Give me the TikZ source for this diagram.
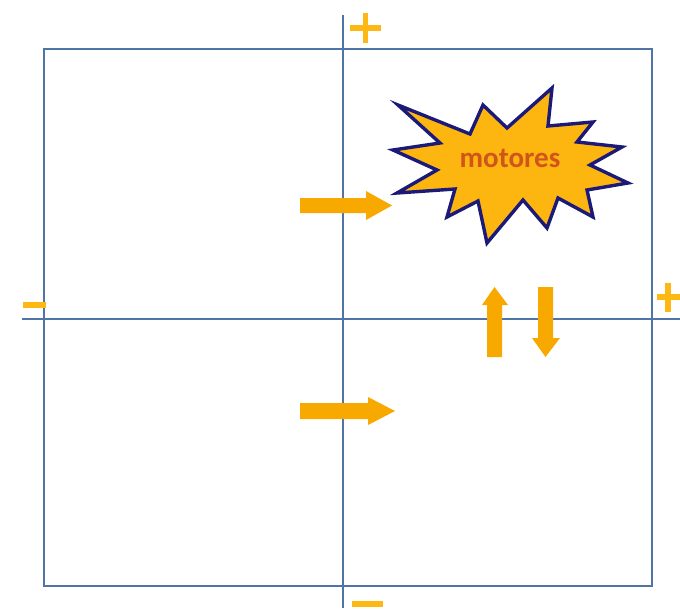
\documentclass[tikz,border=0pt]{standalone}
\usepackage{fontspec}
\setmainfont{Carlito}
\definecolor{axisblue}{HTML}{4F74A8}
\definecolor{arrorange}{HTML}{F8A900}
\definecolor{signgold}{HTML}{FDB813}
\definecolor{starfill}{HTML}{FDB60F}
\definecolor{starline}{HTML}{1C1A78}
\definecolor{txtred}{HTML}{D2541A}
\begin{document}
\begin{tikzpicture}[x=1pt,y=-1pt,
  axisline/.style={draw=axisblue,line width=1.3pt},
  fatarrow/.style={fill=arrorange,draw=none},
  sign/.style={draw=signgold,line width=5.5pt}]
\useasboundingbox (0,0) rectangle (680,608);
% frame and axes
\draw[axisline] (44,49) rectangle (652,586);
\draw[axisline] (343,15) -- (343,608);
\draw[axisline] (22,319) -- (680,319);
% signs
\draw[sign] (350,28) -- (381,28) (365.5,13) -- (365.5,43);
\draw[sign] (657,297) -- (682,297) (668,283) -- (668,312);
\draw[sign] (23,305) -- (46,305);
\draw[sign] (352,604) -- (383,604);
% star
\draw[fill=starfill,draw=starline,line width=3.4pt,line join=miter]
  (398,105) -- (470,134) -- (483,105) -- (507,128) -- (552,88) -- (548,126)
  -- (593,122) -- (577,142) -- (622,147) -- (590,165) -- (628,183) -- (587,190)
  -- (593,217) -- (558,198) -- (547,228) -- (523,200) -- (487,243) -- (478,201)
  -- (447,217) -- (455,189) -- (397,193) -- (437,170) -- (393,150) -- (440,143) -- cycle;
\node[text=txtred,font=\bfseries\fontsize{29}{32}\selectfont,inner sep=0pt] (mot) at (510,158) {motores};
% arrows
\fill[fatarrow] (300,198) -- (366,198) -- (366,191) -- (392,205.5) -- (366,220) -- (366,213) -- (300,213) -- cycle;
\fill[fatarrow] (300,403) -- (368,403) -- (368,397) -- (395,411) -- (368,425) -- (368,419) -- (300,419) -- cycle;
\fill[fatarrow] (487,357) -- (487,305) -- (482,305) -- (494.5,287) -- (508,305) -- (502,305) -- (502,357) -- cycle;
\fill[fatarrow] (538,287) -- (553,287) -- (553,338) -- (560,338) -- (545.5,357) -- (532,338) -- (538,338) -- cycle;
\end{tikzpicture}
\end{document}
